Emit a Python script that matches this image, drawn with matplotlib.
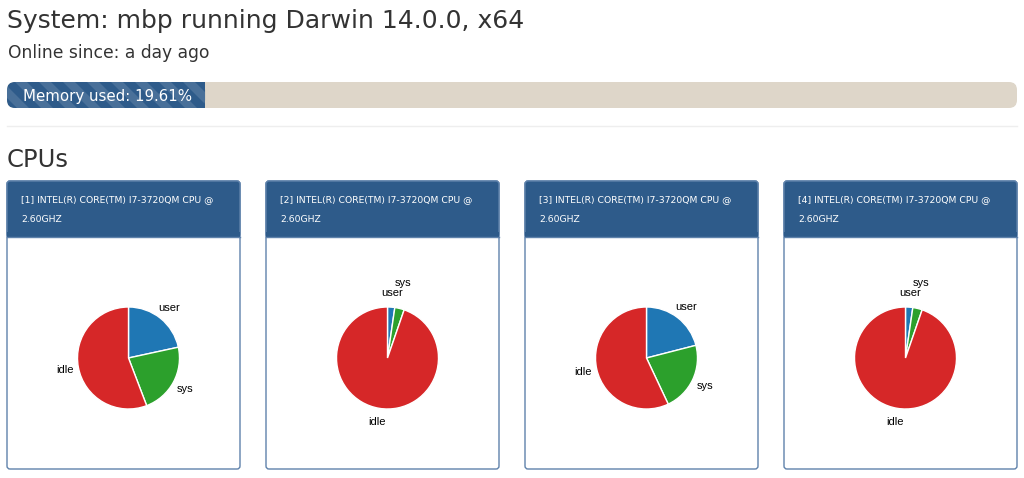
import numpy as np
import matplotlib.pyplot as plt
from matplotlib.patches import FancyBboxPatch, Rectangle, Polygon

# data
host_title = "System: mbp running Darwin 14.0.0, x64"
online_text = "Online since: a day ago"
memory_used = 19.61
cpu_names = ["[1] INTEL(R) CORE(TM) I7-3720QM CPU @\n2.60GHZ",
             "[2] INTEL(R) CORE(TM) I7-3720QM CPU @\n2.60GHZ",
             "[3] INTEL(R) CORE(TM) I7-3720QM CPU @\n2.60GHZ",
             "[4] INTEL(R) CORE(TM) I7-3720QM CPU @\n2.60GHZ"]
slice_names = ["user", "sys", "idle"]
cpu_user = [21.6, 2.3, 21.0, 2.3]
cpu_sys = [22.6, 3.0, 22.0, 3.0]
cpu_idle = [55.8, 94.7, 57.0, 94.7]

W, H = 1024, 478
fig = plt.figure(figsize=(W / 100, H / 100), dpi=100)
ax = fig.add_axes([0, 0, 1, 1])
ax.set_xlim(0, W)
ax.set_ylim(H, 0)
ax.axis('off')

dark = '#333333'
blue = '#2e5b8a'
ax.text(7, 28, host_title, fontsize=18, color=dark, family='DejaVu Sans', va='baseline')
ax.text(8, 58, online_text, fontsize=12.3, color=dark, family='DejaVu Sans', va='baseline')

# memory bar
bx, by, bw, bh = 7, 82, 1010, 26
ax.add_patch(FancyBboxPatch((bx, by), bw, bh, boxstyle="round,pad=0,rounding_size=8",
                            fc='#ded6c9', ec='none'))
fw = bw * memory_used / 100
fill = FancyBboxPatch((bx, by), fw, bh, boxstyle="round,pad=0,rounding_size=8",
                      fc=blue, ec='none')
ax.add_patch(fill)
ax.add_patch(Rectangle((bx + fw - 10, by), 10, bh, fc=blue, ec='none'))
for s in np.arange(bx - 40, bx + fw + 40, 24):
    p = Polygon([(s, by), (s + 12, by), (s + 12 + bh, by + bh), (s + bh, by + bh)],
                fc='white', alpha=0.13, ec='none')
    ax.add_patch(p)
    p.set_clip_path(fill)
ax.text(23, 96, "Memory used: %.2f%%" % memory_used, fontsize=10.8, color='white',
        family='DejaVu Sans', va='center')

ax.plot([7, 1017], [126, 126], color='#eeeeee', lw=1)
ax.text(7, 167, "CPUs", fontsize=17.5, color=dark, family='DejaVu Sans', va='baseline')

# cpu panels
px0 = [7, 266, 525, 784]
pw, ptop, pbot, hbot = 233, 181, 469, 237
for i, name in enumerate(cpu_names):
    x0 = px0[i]
    ax.add_patch(FancyBboxPatch((x0, ptop), pw, pbot - ptop,
                                boxstyle="round,pad=0,rounding_size=3",
                                fc='white', ec='#5f82ab', lw=1))
    ax.add_patch(FancyBboxPatch((x0, ptop), pw, hbot - ptop,
                                boxstyle="round,pad=0,rounding_size=3",
                                fc=blue, ec='#5f82ab', lw=1))
    ax.add_patch(Rectangle((x0, hbot - 5), pw, 5, fc=blue, ec='none'))
    ax.plot([x0, x0 + pw], [hbot, hbot], color='#5f82ab', lw=1)
    ax.text(x0 + 14, 200, name.split('\n')[0], fontsize=6.7, color='white',
            family='DejaVu Sans', va='center')
    ax.text(x0 + 14, 219, name.split('\n')[1], fontsize=6.7, color='white',
            family='DejaVu Sans', va='center')

    # pie axes: radius 51 px
    cx, cy, r = x0 + pw / 2 + 5, 358, 51
    size = 200
    pax = fig.add_axes([(cx - size / 2) / W, 1 - (cy + size / 2) / H, size / W, size / H])
    lim = size / 2 / r
    vals = [cpu_user[i], cpu_sys[i], cpu_idle[i]]
    wedges, texts = pax.pie(vals, labels=slice_names,
                            colors=['#1f77b4', '#2ca02c', '#d62728'],
                            startangle=90, counterclock=False, labeldistance=1.27,
                            wedgeprops=dict(edgecolor='white', linewidth=1),
                            textprops=dict(fontsize=8, family='Liberation Sans'))
    pax.set_xlim(-lim, lim)
    pax.set_ylim(-lim, lim)
    pax.set_aspect('equal')
    pax.axis('off')
    prev = None
    for t in texts:
        t.set_ha('center')
        t.set_va('center')
        x, y = t.get_position()
        if prev is not None and np.hypot(x - prev[0], y - prev[1]) < 0.3:
            y = prev[1] + 0.2
            t.set_position((x, y))
        prev = (x, y)

fig.savefig('out.png', dpi=100)
